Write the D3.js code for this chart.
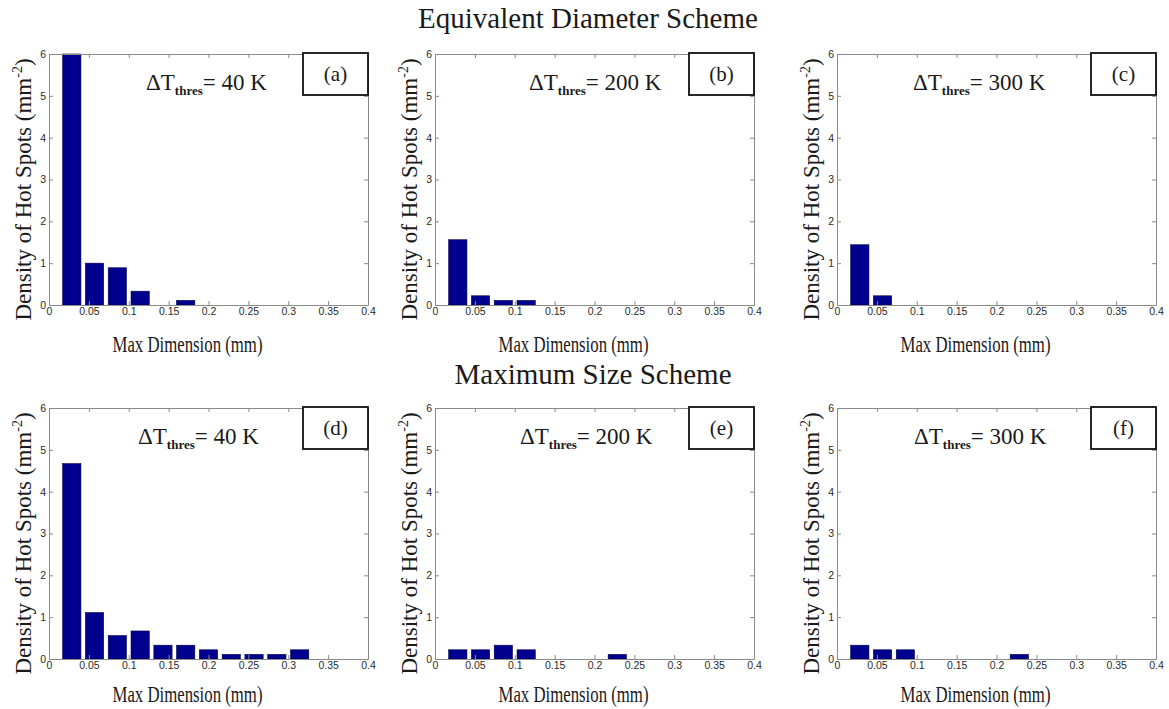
<!DOCTYPE html>
<html>
<head>
<meta charset="utf-8">
<script src="https://cdn.jsdelivr.net/npm/d3@7"></script>
<style>
  html, body { margin: 0; padding: 0; background: #fff; }
  svg { display: block; }
  .serif { font-family: "Liberation Serif", "Times New Roman", serif; fill: #1a1a1a; }
  .tick text { font-family: "Liberation Sans", Arial, sans-serif; font-size: 10.5px; fill: #2a2a2a; }
  .axis path, .axis line { stroke: #8a8a8a; stroke-width: 1; }
</style>
</head>
<body>
<svg id="chart" width="1169" height="709"></svg>
<script>
// Histogram bin centres (mm) shared by all six panels
const binCenters = [0.0286, 0.0571, 0.0857, 0.1143, 0.1429, 0.1714, 0.2000,
                    0.2286, 0.2571, 0.2857, 0.3143, 0.3429, 0.3714];
const binWidth = 0.0286;

const xTicks = [0, 0.05, 0.1, 0.15, 0.2, 0.25, 0.3, 0.35, 0.4];
const xTickLabels = ["0", "0.05", "0.1", "0.15", "0.2", "0.25", "0.3", "0.35", "0.4"];
const yTicks = [0, 1, 2, 3, 4, 5, 6];

// Density of hot spots (mm^-2) per bin
// Equivalent Diameter Scheme
const densityA = [6.00, 1.00, 0.89, 0.33, 0, 0.11, 0, 0, 0, 0, 0, 0, 0];
const densityB = [1.56, 0.22, 0.11, 0.11, 0, 0, 0, 0, 0, 0, 0, 0, 0];
const densityC = [1.44, 0.22, 0, 0, 0, 0, 0, 0, 0, 0, 0, 0, 0];
// Maximum Size Scheme
const densityD = [4.67, 1.11, 0.56, 0.67, 0.33, 0.33, 0.22, 0.11, 0.11, 0.11, 0.22, 0, 0];
const densityE = [0.22, 0.22, 0.33, 0.22, 0, 0, 0, 0.11, 0, 0, 0, 0, 0];
const densityF = [0.33, 0.22, 0.22, 0, 0, 0, 0, 0.11, 0, 0, 0, 0, 0];

const panelSeries = [densityA, densityB, densityC, densityD, densityE, densityF];
const panelTags = ["(a)", "(b)", "(c)", "(d)", "(e)", "(f)"];
const thresholds = [40, 200, 300, 40, 200, 300];
const rowTitles = ["Equivalent Diameter Scheme", "Maximum Size Scheme"];

// Layout
const colLeft = [49, 435, 837];
const rowTop = [54, 408];
const plotW = 319, plotH = 251;
const annotX = [97, 94, 76, 89, 85, 77];
const xLabelGap = [47, 43];
const titleX = [588, 593], titleY = [28, 384];
const barColor = "#00008f";

const svg = d3.select("#chart");

rowTitles.forEach((t, r) => {
  svg.append("text").attr("class", "serif")
    .attr("x", titleX[r]).attr("y", titleY[r])
    .attr("text-anchor", "middle").attr("font-size", 29)
    .text(t);
});

panelSeries.forEach((vals, i) => {
  const col = i % 3, row = Math.floor(i / 3);
  const g = svg.append("g")
    .attr("transform", `translate(${colLeft[col]},${rowTop[row]})`);

  const x = d3.scaleLinear().domain([0, 0.4]).range([0, plotW]);
  const y = d3.scaleLinear().domain([0, 6]).range([plotH, 0]);

  // bars (MATLAB-style width 0.8 of bin)
  const bw = binWidth * 0.8;
  const bars = binCenters.map((c, k) => ({ c, v: vals[k] })).filter(d => d.v > 0);
  g.selectAll("rect.bar").data(bars).join("rect")
    .attr("class", "bar")
    .attr("x", d => x(d.c - bw / 2))
    .attr("width", d => x(d.c + bw / 2) - x(d.c - bw / 2))
    .attr("y", d => y(d.v))
    .attr("height", d => y(0) - y(d.v))
    .attr("fill", barColor)
    .attr("stroke", "#00004a").attr("stroke-width", 0.6);

  // box axes with inward ticks
  g.append("g").attr("class", "axis")
    .attr("transform", `translate(0,${plotH})`)
    .call(d3.axisBottom(x).tickValues(xTicks)
      .tickFormat((d, k) => xTickLabels[k])
      .tickSizeInner(-4).tickSizeOuter(0).tickPadding(3));
  g.append("g").attr("class", "axis")
    .call(d3.axisTop(x).tickValues(xTicks).tickFormat("")
      .tickSizeInner(-4).tickSizeOuter(0));
  g.append("g").attr("class", "axis")
    .call(d3.axisLeft(y).tickValues(yTicks).tickFormat(d3.format("d"))
      .tickSizeInner(-4).tickSizeOuter(0).tickPadding(3));
  g.append("g").attr("class", "axis")
    .attr("transform", `translate(${plotW},0)`)
    .call(d3.axisRight(y).tickValues(yTicks).tickFormat("")
      .tickSizeInner(-4).tickSizeOuter(0));

  // panel tag box
  g.append("rect")
    .attr("x", plotW - 65).attr("y", -1)
    .attr("width", 65).attr("height", 42)
    .attr("fill", "#fff").attr("stroke", "#111").attr("stroke-width", 1.8);
  g.append("text").attr("class", "serif")
    .attr("x", plotW - 32.5).attr("y", 27)
    .attr("text-anchor", "middle").attr("font-size", 21)
    .text(panelTags[i]);

  // threshold annotation
  const ann = g.append("text").attr("class", "serif")
    .attr("x", annotX[i]).attr("y", 36).attr("font-size", 23);
  ann.append("tspan").text("\u0394T");
  ann.append("tspan").attr("font-size", 13).attr("font-weight", "bold")
    .attr("dy", 5).text("thres");
  ann.append("tspan").attr("dy", -5).text("= " + thresholds[i] + " K");

  // axis titles
  g.append("text").attr("class", "serif")
    .attr("x", plotW / 2 - 21).attr("y", plotH + xLabelGap[row])
    .attr("text-anchor", "middle").attr("font-size", 23)
    .attr("textLength", 150).attr("lengthAdjust", "spacingAndGlyphs")
    .text("Max Dimension (mm)");

  const yl = g.append("text").attr("class", "serif")
    .attr("transform", `translate(-18,${plotH / 2 + 10}) rotate(-90)`)
    .attr("text-anchor", "middle").attr("font-size", 23);
  yl.append("tspan").text("Density of Hot Spots (mm");
  yl.append("tspan").attr("font-size", 14).attr("dy", -9).text("-2");
  yl.append("tspan").attr("dy", 9).text(")");
});
</script>
</body>
</html>
